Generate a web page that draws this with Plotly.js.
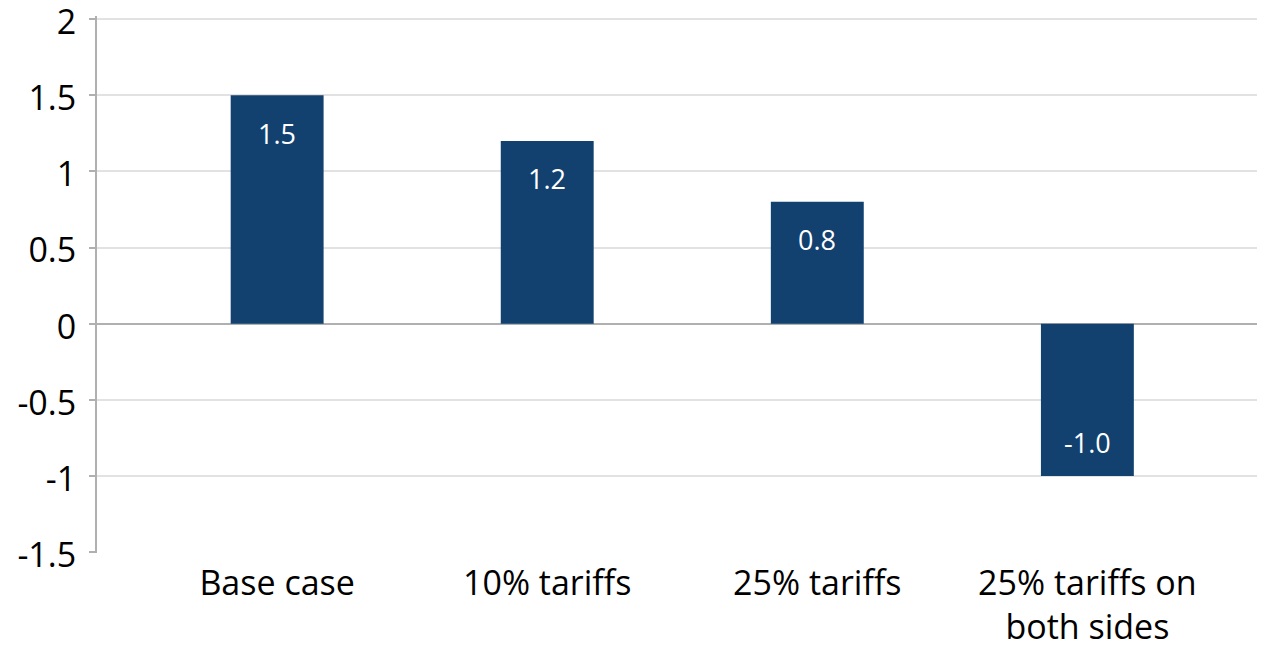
<!DOCTYPE html>
<html>
<head>
<meta charset="utf-8">
<script src="https://cdn.plot.ly/plotly-3.0.1.min.js"></script>
<style>html,body{margin:0;padding:0;background:#fff;}#chart{width:1270px;height:645px;}</style>
</head>
<body>
<div id="chart"></div>
<script>
const categories = ["Base case", "10% tariffs", "25% tariffs", "25% tariffs on<br>both sides"];
const values = [1.5, 1.2, 0.8, -1.0];
const valueLabels = ["1.5", "1.2", "0.8", "-1.0"];
const yTickVals = [-1.5, -1, -0.5, 0, 0.5, 1, 1.5, 2];
const yTickText = ["-1.5", "-1", "-0.5", "0", "0.5", "1", "1.5", "2"];

const barColor = "#12416F";
const font = "Open Sans, Noto Sans, sans-serif";

const trace = {
  type: "bar",
  x: categories,
  y: values,
  marker: {color: barColor, line: {width: 0}},
  hoverinfo: "skip"
};

const annotations = categories.map((c, i) => ({
  x: c, y: values[i], xref: "x", yref: "y",
  text: valueLabels[i], showarrow: false,
  yshift: values[i] >= 0 ? -38 : 34,
  font: {family: font, size: 27, color: "#ffffff"}
}));

const layout = {
  width: 1270, height: 645,
  margin: {l: 97, r: 13, t: 16, b: 92},
  paper_bgcolor: "#ffffff", plot_bgcolor: "#ffffff",
  showlegend: false,
  bargap: 0.656,
  font: {family: font, color: "#000000"},
  xaxis: {
    type: "category",
    range: [-0.667, 3.628],
    showgrid: false, zeroline: false, showline: false,
    ticks: "",
    tickfont: {family: font, size: 34, color: "#000000"},
    ticklabelstandoff: 7,
    ticklabeloverflow: "allow",
    fixedrange: true
  },
  yaxis: {
    range: [-1.505, 2.02],
    tickvals: yTickVals, ticktext: yTickText,
    showgrid: true, gridcolor: "#e2e2e2", gridwidth: 2,
    zeroline: true, zerolinecolor: "#b0b0b0", zerolinewidth: 2,
    showline: true, linecolor: "#b0b0b0", linewidth: 2,
    ticks: "outside", ticklen: 6, tickcolor: "#b0b0b0", tickwidth: 2,
    tickfont: {family: font, size: 34, color: "#000000"},
    ticklabelstandoff: 6,
    ticklabelshift: 3,
    ticklabeloverflow: "allow",
    fixedrange: true
  },
  annotations: annotations
};

Plotly.newPlot("chart", [trace], layout, {displayModeBar: false, staticPlot: true});
</script>
</body>
</html>
